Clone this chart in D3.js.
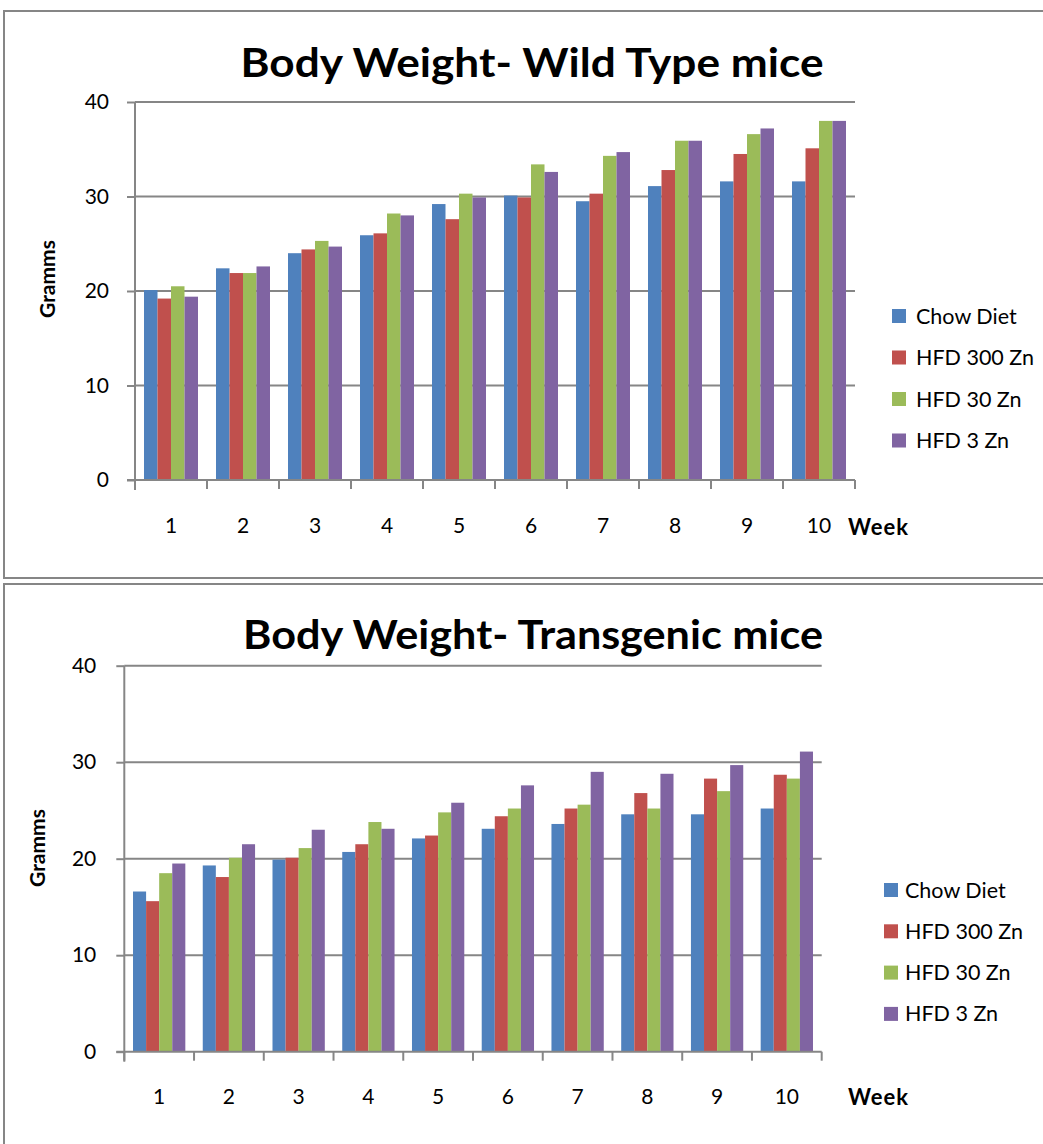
<!DOCTYPE html>
<html>
<head>
<meta charset="utf-8">
<script src="https://cdn.jsdelivr.net/npm/d3@7"></script>
<style>
  html, body { margin: 0; padding: 0; background: #fff; }
  svg { display: block; }
  text { font-family: Lato, "Open Sans", "Liberation Sans", sans-serif; fill: #000; }
</style>
</head>
<body>
<script>
// Weekly body weight (grams) for four diet groups
const weeks = ["1", "2", "3", "4", "5", "6", "7", "8", "9", "10"];
const seriesNames = ["Chow Diet", "HFD 300 Zn", "HFD 30 Zn", "HFD 3 Zn"];
const seriesColors = ["#4F81BD", "#C0504D", "#9BBB59", "#8064A2"];
const yTicks = [0, 10, 20, 30, 40];

// Wild type mice
const wtChow   = [20.1, 22.4, 24.0, 25.9, 29.2, 30.1, 29.5, 31.1, 31.6, 31.6];
const wtHfd300 = [19.2, 21.9, 24.4, 26.1, 27.6, 29.9, 30.3, 32.8, 34.5, 35.1];
const wtHfd30  = [20.5, 21.9, 25.3, 28.2, 30.3, 33.4, 34.3, 35.9, 36.6, 38.0];
const wtHfd3   = [19.4, 22.6, 24.7, 28.0, 29.9, 32.6, 34.7, 35.9, 37.2, 38.0];

// Transgenic mice
const tgChow   = [16.6, 19.3, 19.9, 20.7, 22.1, 23.1, 23.6, 24.6, 24.6, 25.2];
const tgHfd300 = [15.6, 18.1, 20.1, 21.5, 22.4, 24.4, 25.2, 26.8, 28.3, 28.7];
const tgHfd30  = [18.5, 20.1, 21.1, 23.8, 24.8, 25.2, 25.6, 25.2, 27.0, 28.3];
const tgHfd3   = [19.5, 21.5, 23.0, 23.1, 25.8, 27.6, 29.0, 28.8, 29.7, 31.1];

const W = 1043, H = 1144;
const axisGray = "#868686";

const svg = d3.select("body").append("svg")
  .attr("width", W).attr("height", H);

function drawPanel(opts) {
  const g = svg.append("g");

  // chart-area frame
  g.append("rect")
    .attr("x", opts.frame[0]).attr("y", opts.frame[1])
    .attr("width", opts.frame[2]).attr("height", opts.frame[3])
    .attr("fill", "#fff").attr("stroke", axisGray).attr("stroke-width", 2);

  const x0 = d3.scaleBand().domain(weeks).range([opts.left, opts.right]).padding(0);
  const bw = x0.bandwidth();
  const x1 = d3.scaleBand().domain(seriesNames).range([bw * 0.125, bw * 0.875]).padding(0);
  const y = d3.scaleLinear().domain([0, 40]).range([opts.bottom, opts.top]);

  // gridlines
  g.append("g").selectAll("line").data(yTicks.filter(t => t > 0)).join("line")
    .attr("x1", opts.left).attr("x2", opts.right)
    .attr("y1", d => y(d)).attr("y2", d => y(d))
    .attr("stroke", axisGray).attr("stroke-width", 2);

  // bars
  const series = opts.values.map((vals, i) => ({ name: seriesNames[i], color: seriesColors[i], vals }));
  const groups = g.append("g").selectAll("g").data(weeks).join("g")
    .attr("transform", d => `translate(${x0(d)},0)`);
  groups.selectAll("rect")
    .data((w, wi) => series.map(s => ({ name: s.name, color: s.color, v: s.vals[wi] })))
    .join("rect")
    .attr("x", d => x1(d.name))
    .attr("width", x1.bandwidth())
    .attr("y", d => y(d.v))
    .attr("height", d => y(0) - y(d.v))
    .attr("fill", d => d.color);

  // y axis
  const yAxis = d3.axisLeft(y).tickValues(yTicks).tickSize(8).tickPadding(opts.yLabelPad);
  const ya = g.append("g").attr("transform", `translate(${opts.left},0)`).call(yAxis);
  ya.select(".domain").attr("stroke", axisGray).attr("stroke-width", 2)
    .attr("d", `M0,${opts.top}V${opts.bottom + 10}`);
  ya.selectAll(".tick line").attr("stroke", axisGray).attr("stroke-width", 2);
  ya.selectAll(".tick text").attr("font-size", 21).attr("font-family", "Lato, sans-serif").attr("fill", "#000");

  // x axis
  const xa = g.append("g").attr("transform", `translate(0,${opts.bottom})`)
    .call(d3.axisBottom(x0).tickSize(0).tickPadding(opts.xLabelPad));
  xa.select(".domain").attr("stroke", axisGray).attr("stroke-width", 2)
    .attr("d", `M${opts.left - 8},0H${opts.right}`);
  xa.selectAll(".tick text").attr("font-size", 21).attr("font-family", "Lato, sans-serif").attr("fill", "#000");
  // category boundary ticks
  xa.append("g").selectAll("line").data(d3.range(weeks.length + 1)).join("line")
    .attr("x1", i => opts.left + i * bw).attr("x2", i => opts.left + i * bw)
    .attr("y1", 0).attr("y2", 9)
    .attr("stroke", axisGray).attr("stroke-width", 2);

  // titles
  g.append("text").attr("x", opts.titleX).attr("y", opts.titleY)
    .attr("text-anchor", "middle").attr("font-weight", "bold").attr("font-size", 40)
    .attr("textLength", opts.titleLen).attr("lengthAdjust", "spacingAndGlyphs")
    .text(opts.title);
  g.append("text")
    .attr("transform", `translate(${opts.yLabelX},${opts.yLabelY}) rotate(-90)`)
    .attr("text-anchor", "middle").attr("font-weight", "bold").attr("font-size", 21)
    .text("Gramms");
  g.append("text").attr("x", opts.weekX).attr("y", opts.weekY)
    .attr("font-weight", "bold").attr("font-size", 22).attr("letter-spacing", 1)
    .text("Week");

  // legend
  const lg = g.append("g").selectAll("g").data(seriesNames).join("g")
    .attr("transform", (d, i) => `translate(${opts.legendX},${opts.legendY + i * opts.legendStep})`);
  lg.append("rect").attr("x", 0).attr("y", -7).attr("width", 14).attr("height", 14)
    .attr("fill", (d, i) => seriesColors[i]);
  lg.append("text").attr("x", opts.legendTextDx).attr("y", 0).attr("dy", "0.35em")
    .attr("font-size", 21.5).text(d => d);
}

drawPanel({
  frame: [4, 11, 1060, 567],
  left: 135, right: 855, top: 102, bottom: 480,
  values: [wtChow, wtHfd300, wtHfd30, wtHfd3],
  xLabelPad: 38, yLabelPad: 18,
  title: "Body Weight- Wild Type mice", titleX: 532, titleY: 77, titleLen: 583,
  yLabelX: 55, yLabelY: 279,
  weekX: 848, weekY: 535,
  legendX: 892, legendY: 316, legendStep: 41.5, legendTextDx: 24
});

drawPanel({
  frame: [4, 584, 1060, 600],
  left: 124.3, right: 821.7, top: 665.7, bottom: 1051.7,
  values: [tgChow, tgHfd300, tgHfd30, tgHfd3],
  xLabelPad: 37, yLabelPad: 20,
  title: "Body Weight- Transgenic mice", titleX: 533, titleY: 649, titleLen: 580,
  yLabelX: 45, yLabelY: 848,
  weekX: 848, weekY: 1105,
  legendX: 884, legendY: 890, legendStep: 41.3, legendTextDx: 21
});
</script>
</body>
</html>
